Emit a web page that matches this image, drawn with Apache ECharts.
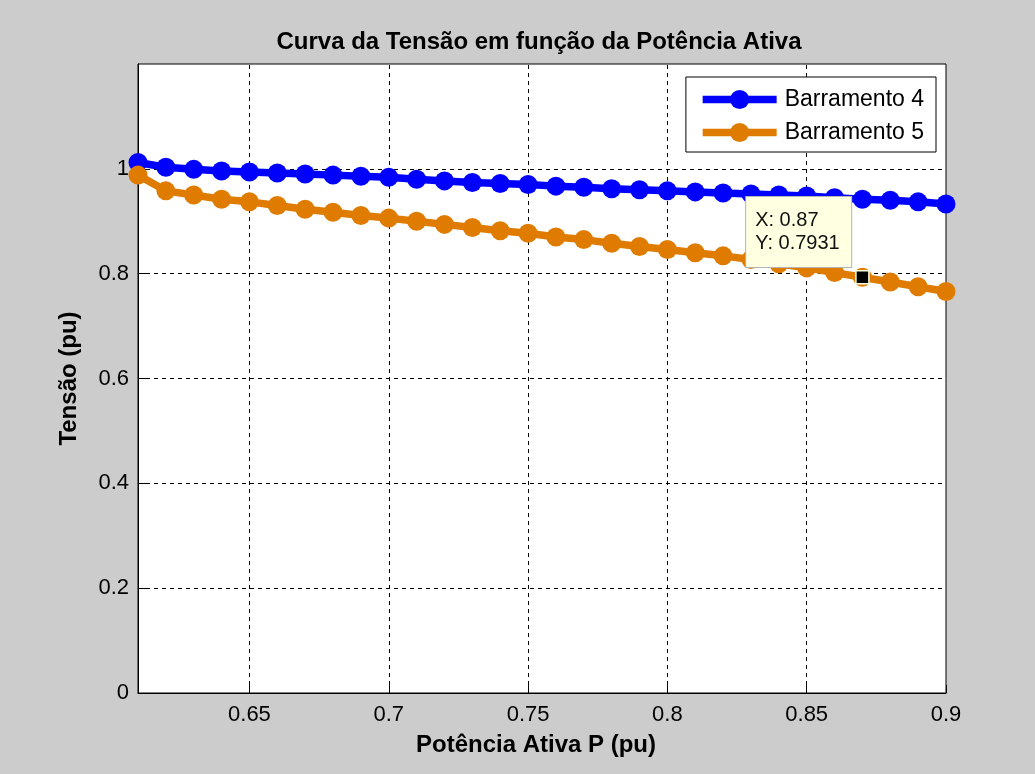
<!DOCTYPE html>
<html>
<head>
<meta charset="utf-8">
<script src="https://cdn.jsdelivr.net/npm/echarts@6/dist/echarts.min.js"></script>
<style>
  html, body { margin: 0; padding: 0; background: #cccccc; }
  #chart { width: 1035px; height: 774px; }
</style>
</head>
<body>
<div id="chart"></div>
<script>
// ---- data ----
const potencia = [0.61, 0.62, 0.63, 0.64, 0.65, 0.66, 0.67, 0.68, 0.69, 0.70,
                  0.71, 0.72, 0.73, 0.74, 0.75, 0.76, 0.77, 0.78, 0.79, 0.80,
                  0.81, 0.82, 0.83, 0.84, 0.85, 0.86, 0.87, 0.88, 0.89, 0.90];
const barramento4 = [1.012, 1.003, 0.999, 0.996, 0.994, 0.992, 0.990, 0.988, 0.986, 0.984,
                     0.980, 0.977, 0.974, 0.972, 0.970, 0.967, 0.965, 0.962, 0.960, 0.958,
                     0.956, 0.954, 0.952, 0.950, 0.948, 0.945, 0.942, 0.940, 0.937, 0.933];
const barramento5 = [0.988, 0.958, 0.950, 0.942, 0.937, 0.930, 0.923, 0.917, 0.911, 0.906,
                     0.900, 0.894, 0.888, 0.882, 0.877, 0.870, 0.865, 0.858, 0.852, 0.846,
                     0.840, 0.834, 0.827, 0.819, 0.811, 0.802, 0.7931, 0.784, 0.775, 0.766];
const xTicks = [0.65, 0.7, 0.75, 0.8, 0.85, 0.9];
const yTicks = [0, 0.2, 0.4, 0.6, 0.8, 1];
const seriesNames = ['Barramento 4', 'Barramento 5'];
const dataTip = { x: 0.87, y: 0.7931 };
const titleText = 'Curva da Tensão em função da Potência Ativa';
const xName = 'Potência Ativa P (pu)';
const yName = 'Tensão (pu)';

// ---- chart ----
const FONT = "'Liberation Sans', Arial, Helvetica, sans-serif";
const fmt = v => String(parseFloat(Number(v).toFixed(4)));
const pairs = ys => potencia.map((x, i) => [x, ys[i]]);

const chart = echarts.init(document.getElementById('chart'), null, { renderer: 'canvas' });
chart.setOption({
  animation: false,
  backgroundColor: '#cccccc',
  textStyle: { fontFamily: FONT },
  title: {
    text: titleText,
    left: 534, top: 25, textAlign: 'center',
    textStyle: { fontFamily: FONT, fontSize: 24, fontWeight: 'bold', color: '#000' }
  },
  legend: {
    right: 99, top: 77, orient: 'vertical',
    backgroundColor: '#ffffff', borderColor: '#000', borderWidth: 1,
    padding: [10, 12, 7, 13], itemGap: 8, itemWidth: 74, itemHeight: 24,
    lineStyle: { width: 7.5 },
    textStyle: { fontFamily: FONT, fontSize: 23, color: '#000', lineHeight: 25, padding: [0, 0, 0, 3] },
    selectedMode: false,
    data: seriesNames
  },
  grid: {
    left: 138, right: 89, top: 64, bottom: 81,
    show: true, backgroundColor: '#ffffff', borderColor: '#000', borderWidth: 1
  },
  xAxis: {
    type: 'value', min: potencia[0], max: potencia[potencia.length - 1],
    name: xName, nameLocation: 'middle', nameGap: 40,
    nameTextStyle: { fontFamily: FONT, fontSize: 24, fontWeight: 'bold', color: '#000', padding: [0, 12, 0, 0] },
    axisLine: { lineStyle: { color: '#000', width: 1 } },
    axisTick: { show: true, inside: true, length: 8, customValues: xTicks, lineStyle: { color: '#000' } },
    axisLabel: { customValues: xTicks, margin: 11, fontFamily: FONT, fontSize: 22, color: '#000', formatter: fmt, showMinLabel: true, showMaxLabel: true },
    splitLine: { show: false }
  },
  yAxis: {
    type: 'value', min: 0, max: 1.2, interval: 0.2,
    name: yName, nameLocation: 'middle', nameGap: 57,
    nameTextStyle: { fontFamily: FONT, fontSize: 24, fontWeight: 'bold', color: '#000' },
    axisLine: { show: true, lineStyle: { color: '#000', width: 1 } },
    axisTick: { show: true, inside: true, length: 8, customValues: yTicks, lineStyle: { color: '#000' } },
    axisLabel: { customValues: yTicks, margin: 9, fontFamily: FONT, fontSize: 22, color: '#000', formatter: fmt },
    splitLine: { show: true, lineStyle: { color: '#000', width: 1, type: [4, 4] } }
  },
  series: [
    {
      name: '_grid', type: 'line', data: [], z: 1, silent: true,
      markLine: {
        z: 1, silent: true, symbol: 'none', animation: false,
        label: { show: false },
        lineStyle: { color: '#000', width: 1, type: [4, 4] },
        emphasis: { disabled: true },
        data: xTicks.slice(0, -1).map(v => ({ xAxis: v }))
      }
    },
    {
      name: seriesNames[0], type: 'line', z: 3, silent: true,
      data: pairs(barramento4),
      symbol: 'circle', symbolSize: 19, showSymbol: true,
      lineStyle: { color: '#0000ff', width: 7.5 },
      itemStyle: { color: '#0000ff' },
      emphasis: { disabled: true }
    },
    {
      name: seriesNames[1], type: 'line', z: 3, silent: true,
      data: pairs(barramento5),
      symbol: 'circle', symbolSize: 19, showSymbol: true,
      lineStyle: { color: '#df7c00', width: 7.5 },
      itemStyle: { color: '#df7c00' },
      emphasis: { disabled: true },
      markPoint: {
        z: 10, silent: true, animation: false,
        symbol: 'rect', symbolSize: 13,
        itemStyle: { color: '#000', borderColor: '#ffffe1', borderWidth: 1.5 },
        data: [{ coord: [dataTip.x, dataTip.y] }],
        label: {
          show: true,
          formatter: 'X: ' + dataTip.x + '\nY: ' + dataTip.y,
          position: [-109, -73], align: 'left', verticalAlign: 'top',
          width: 80,
          backgroundColor: '#ffffe1', borderColor: '#b4b4b4', borderWidth: 1,
          padding: [12, 16, 12, 9],
          fontFamily: FONT, fontSize: 20, lineHeight: 23, color: '#111'
        },
        emphasis: { disabled: true }
      }
    }
  ]
});
</script>
</body>
</html>
